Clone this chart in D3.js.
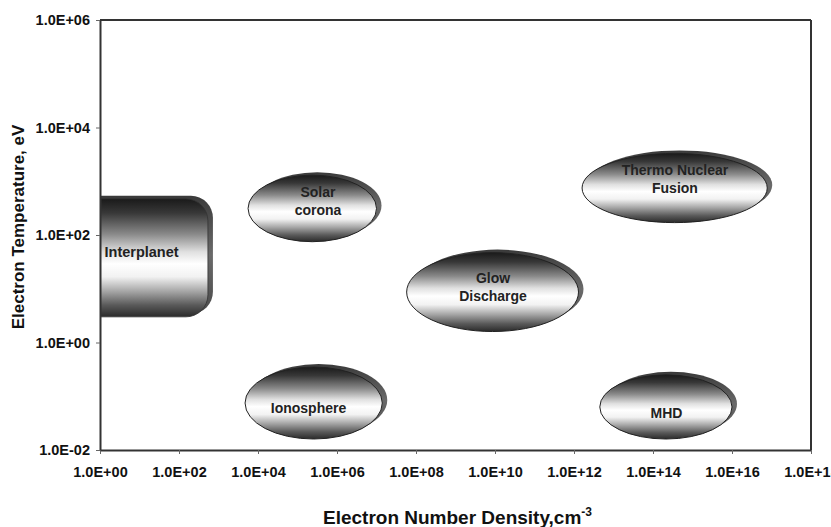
<!DOCTYPE html>
<html>
<head>
<meta charset="utf-8">
<script src="https://cdn.jsdelivr.net/npm/d3@7"></script>
<style>
  html, body { margin: 0; padding: 0; background: #fff; }
  svg { display: block; font-family: "Liberation Sans", Arial, sans-serif; }
</style>
</head>
<body>
<svg id="chart" width="831" height="527"></svg>
<script>
// ---- data ----
const regionNames = ["Interplanet", "Solar corona", "Ionosphere", "Glow Discharge", "Thermo Nuclear Fusion", "MHD"];
const regionShape = ["rect", "ellipse", "ellipse", "ellipse", "ellipse", "ellipse"];
const densityMin = [1e-1, 5.6e3, 4.7e3, 5.8e7, 1.6e12, 4.5e12];   // cm^-3
const densityMax = [5.4e2, 1.0e7, 1.4e7, 1.3e12, 7.8e16, 1.0e16];
const tempMin = [3.0, 75, 0.016, 1.6, 170, 0.016];                // eV
const tempMax = [470, 1300, 0.35, 47, 3300, 0.25];
const labelLines = [["Interplanet"], ["Solar", "corona"], ["Ionosphere"], ["Glow", "Discharge"], ["Thermo Nuclear", "Fusion"], ["MHD"]];
const labelDensity = [1.3, 3.3e5, 1.9e5, 8.9e9, 3.6e14, 2.2e14];    // label anchor (data units)
const labelTemp = [48, 430, 0.06, 11, 1100, 0.049];

const xTickValues = [1e0, 1e2, 1e4, 1e6, 1e8, 1e10, 1e12, 1e14, 1e16, 1e18];
const xTickLabels = ["1.0E+00", "1.0E+02", "1.0E+04", "1.0E+06", "1.0E+08", "1.0E+10", "1.0E+12", "1.0E+14", "1.0E+16", "1.0E+18"];
const yTickValues = [1e-2, 1e0, 1e2, 1e4, 1e6];
const yTickLabels = ["1.0E-02", "1.0E+00", "1.0E+02", "1.0E+04", "1.0E+06"];
const xTitle = "Electron Number Density,cm";
const xTitleSup = "-3";
const yTitle = "Electron Temperature, eV";

// ---- layout ----
const pLeft = 100, pRight = 811, pTop = 20, pBottom = 450;
const svg = d3.select("#chart");
const x = d3.scaleLog().domain([1e0, 1e18]).range([pLeft, pRight]);
const y = d3.scaleLog().domain([1e-2, 1e6]).range([pBottom, pTop]);

const defs = svg.append("defs");
const g1 = defs.append("linearGradient").attr("id", "body").attr("x1", 0).attr("y1", 0).attr("x2", 0).attr("y2", 1);
[[0, "#1a1a1a"], [0.12, "#383838"], [0.3, "#8a8a8a"], [0.45, "#e0e0e0"], [0.55, "#ffffff"], [0.66, "#f2f2f2"], [0.78, "#a8a8a8"], [0.9, "#5a5a5a"], [1, "#2a2a2a"]]
  .forEach(([o, c]) => g1.append("stop").attr("offset", o).attr("stop-color", c));
const g2 = defs.append("linearGradient").attr("id", "shadow").attr("x1", 0).attr("y1", 0).attr("x2", 0).attr("y2", 1);
[[0, "#3a3a3a"], [0.5, "#6a6a6a"], [1, "#4a4a4a"]]
  .forEach(([o, c]) => g2.append("stop").attr("offset", o).attr("stop-color", c));
defs.append("clipPath").attr("id", "plotclip").append("rect")
  .attr("x", pLeft).attr("y", pTop).attr("width", pRight - pLeft).attr("height", pBottom - pTop);

// ---- regions ----
const plot = svg.append("g").attr("clip-path", "url(#plotclip)");
const sdx = 5, sdy = -3;
regionNames.forEach((name, i) => {
  const x0 = x(densityMin[i]), x1 = x(densityMax[i]);
  const y0 = y(tempMax[i]), y1 = y(tempMin[i]);
  const g = plot.append("g");
  if (regionShape[i] === "ellipse") {
    const cx = (x0 + x1) / 2, cy = (y0 + y1) / 2, rx = (x1 - x0) / 2, ry = (y1 - y0) / 2;
    g.append("ellipse").attr("cx", cx + sdx).attr("cy", cy + sdy).attr("rx", rx).attr("ry", ry)
      .attr("fill", "url(#shadow)");
    g.append("ellipse").attr("cx", cx).attr("cy", cy).attr("rx", rx).attr("ry", ry)
      .attr("fill", "url(#body)").attr("stroke", "#222").attr("stroke-width", 1);
  } else {
    g.append("rect").attr("x", x0 + sdx).attr("y", y0 + sdy).attr("width", x1 - x0).attr("height", y1 - y0)
      .attr("rx", 22).attr("ry", 22).attr("fill", "url(#shadow)");
    g.append("rect").attr("x", x0).attr("y", y0).attr("width", x1 - x0).attr("height", y1 - y0)
      .attr("rx", 22).attr("ry", 22).attr("fill", "url(#body)").attr("stroke", "#333").attr("stroke-width", 0.8);
  }
});

// labels
const lineH = 18;
regionNames.forEach((name, i) => {
  const lines = labelLines[i];
  const isRect = regionShape[i] === "rect";
  const cx = x(labelDensity[i]);
  const cy = y(labelTemp[i]);
  const t = svg.append("text")
    .attr("font-size", isRect ? 14.5 : 14).attr("font-weight", "bold").attr("fill", "#222")
    .attr("text-anchor", isRect ? "start" : "middle");
  lines.forEach((ln, k) => {
    t.append("tspan").attr("x", cx)
      .attr("y", cy + (k - (lines.length - 1) / 2) * lineH + 5)
      .text(ln);
  });
});

// ---- axes ----
const axisColor = "#333";
const xAxis = svg.append("g").attr("transform", `translate(0,${pBottom})`)
  .call(d3.axisBottom(x).tickValues(xTickValues).tickFormat((d, i) => xTickLabels[i]).tickSize(4).tickSizeOuter(0).tickPadding(13));
const yAxis = svg.append("g").attr("transform", `translate(${pLeft},0)`)
  .call(d3.axisLeft(y).tickValues(yTickValues).tickFormat((d, i) => yTickLabels[yTickValues.indexOf(d)]).tickSize(4).tickSizeOuter(0).tickPadding(6));
[xAxis, yAxis].forEach(a => {
  a.select(".domain").attr("stroke", axisColor).attr("stroke-width", 2);
  a.selectAll(".tick line").attr("stroke", "#666").attr("stroke-width", 1);
  a.selectAll(".tick text").attr("font-family", "Liberation Sans, Arial, sans-serif")
    .attr("font-size", 14.5).attr("font-weight", "bold").attr("fill", "#111");
});
// frame top & right
svg.append("line").attr("x1", pLeft).attr("x2", pRight).attr("y1", pTop).attr("y2", pTop).attr("stroke", axisColor).attr("stroke-width", 2);
svg.append("line").attr("x1", pRight).attr("x2", pRight).attr("y1", pTop).attr("y2", pBottom).attr("stroke", axisColor).attr("stroke-width", 2);

// titles
const xt = svg.append("text").attr("x", 323).attr("y", 524).attr("text-anchor", "start")
  .attr("font-size", 19).attr("font-weight", "bold").attr("fill", "#111");
xt.append("tspan").text(xTitle);
xt.append("tspan").attr("dy", -8).attr("font-size", 12).text(xTitleSup);
svg.append("text").attr("transform", "translate(24,227) rotate(-90)").attr("text-anchor", "middle")
  .attr("font-size", 17).attr("font-weight", "bold").attr("fill", "#111").text(yTitle);
</script>
</body>
</html>
